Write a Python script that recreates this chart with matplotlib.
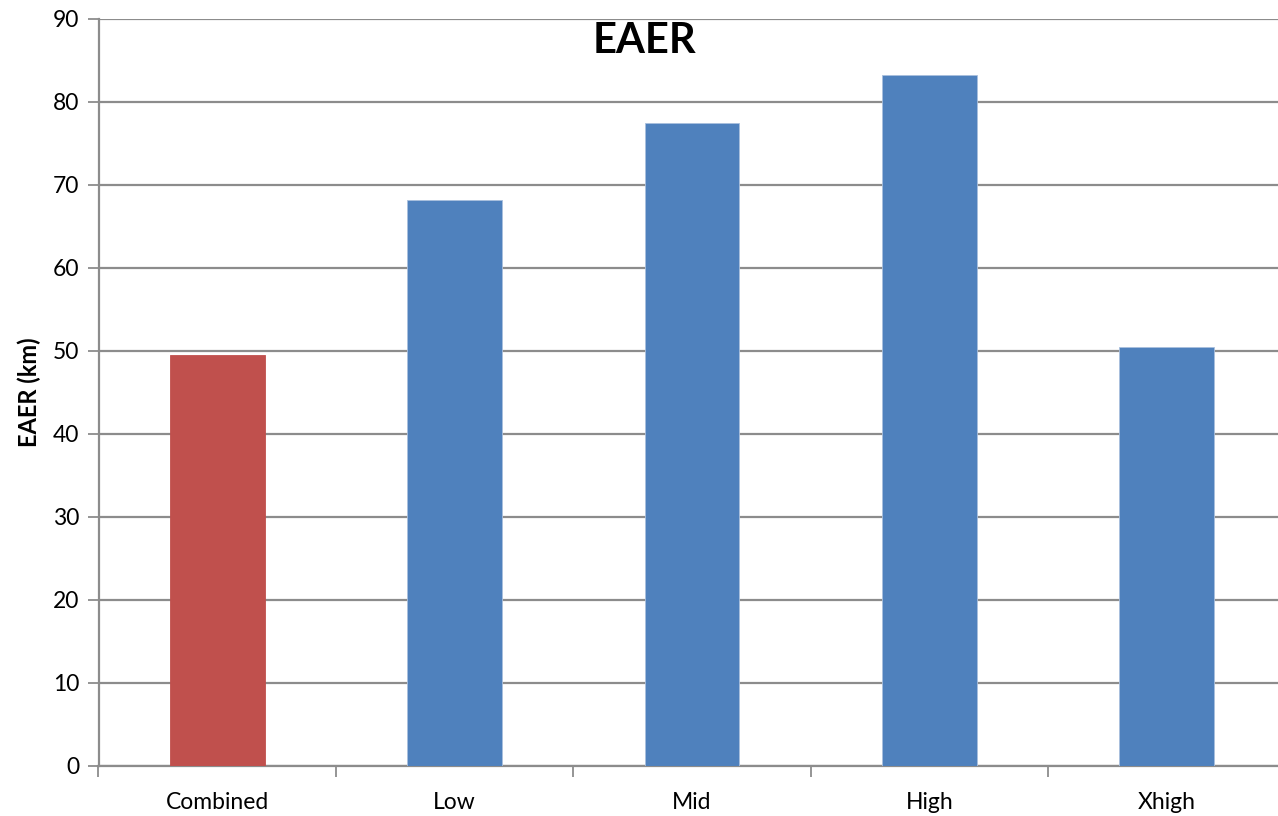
import matplotlib.pyplot as plt
import numpy as np

categories = ['Combined', 'Low', 'Mid', 'High', 'Xhigh']
eaer_km = [49.5, 68.1, 77.4, 83.2, 50.5]
bar_colors = ['#C0504D', '#4F81BD', '#4F81BD', '#4F81BD', '#4F81BD']
edge_colors = ['#C0504D', '#A9C0DE', '#A9C0DE', '#A9C0DE', '#A9C0DE']

plt.rcParams['font.family'] = ['Lato', 'DejaVu Sans']

fig = plt.figure(figsize=(12.78, 8.16), dpi=100)
ax = fig.add_axes([98.5 / 1278, 50 / 816, 1187 / 1278, 747.5 / 816])

x = np.arange(len(categories))
ax.bar(x, eaer_km, width=0.4, color=bar_colors, zorder=3,
       edgecolor=edge_colors, linewidth=0.6)

ax.set_xlim(-0.5, len(categories) - 0.5)
ax.set_ylim(0, 90)
ax.set_yticks(np.arange(0, 91, 10))
ax.yaxis.grid(True, color='#8C8C8C', linewidth=1.6, zorder=0)

# category labels centred, tick marks on the boundaries
ax.set_xticks(x)
ax.set_xticklabels(categories, fontsize=16.5)
ax.tick_params(axis='x', which='major', length=0, pad=19)
ax.set_xticks(np.arange(-0.5, len(categories)), minor=True)
ax.tick_params(axis='x', which='minor', length=8, width=1.3, color='#8C8C8C')
ax.tick_params(axis='y', length=8, width=1.3, color='#8C8C8C', labelsize=16.5, pad=6)

for s in ['top', 'right']:
    ax.spines[s].set_visible(False)
for s in ['left', 'bottom']:
    ax.spines[s].set_color('#8C8C8C')
    ax.spines[s].set_linewidth(1.6)

ax.set_ylabel('EAER (km)', fontsize=17, fontweight='bold', labelpad=8)
fig.text(644 / 1278, 1 - 41 / 816, 'EAER', fontsize=30, fontweight='bold',
         ha='center', va='center')

fig.savefig('out.png', dpi=100)
